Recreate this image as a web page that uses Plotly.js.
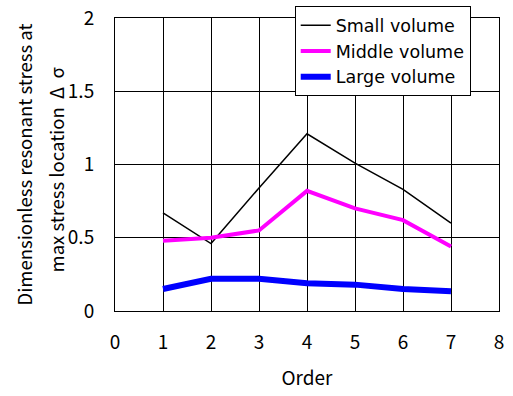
<!DOCTYPE html>
<html><head><meta charset="utf-8">
<script src="https://cdn.plot.ly/plotly-3.0.1.min.js"></script>
<style>body{margin:0;background:#fff}#c{width:513px;height:396px}</style>
</head><body><div id="c"></div>
<script>
const orders = [1, 2, 3, 4, 5, 6, 7];
const smallVolume = [0.67, 0.46, 0.84, 1.21, 1.01, 0.83, 0.60];
const middleVolume = [0.48, 0.50, 0.55, 0.82, 0.70, 0.62, 0.44];
const largeVolume = [0.15, 0.22, 0.22, 0.19, 0.18, 0.15, 0.135];
const seriesNames = ['Small volume', 'Middle volume', 'Large volume'];
const xTicks = [0, 1, 2, 3, 4, 5, 6, 7, 8];
const yTicks = [0, 0.5, 1, 1.5, 2];
const yTitleLines = ['Dimensionless resonant stress at', 'max stress location  Δ  σ'];

const FONT = '"Noto Sans CJK JP", "DejaVu Sans", sans-serif';
const traces = [
  {x: orders, y: smallVolume, name: seriesNames[0], mode: 'lines', line: {color: '#000000', width: 1.5}},
  {x: orders, y: middleVolume, name: seriesNames[1], mode: 'lines', line: {color: '#ff00ff', width: 4}},
  {x: orders, y: largeVolume, name: seriesNames[2], mode: 'lines', line: {color: '#0000ff', width: 6}}
];
const plotW = 513 - 115 - 14;
const layout = {
  width: 513, height: 396,
  margin: {l: 115, r: 14, t: 18, b: 85, autoexpand: false},
  paper_bgcolor: '#fff', plot_bgcolor: '#fff',
  font: {family: FONT, size: 19, color: '#000'},
  showlegend: true,
  legend: {x: 0.468, y: 1.04, xanchor: 'left', yanchor: 'top', bgcolor: '#fff', bordercolor: '#000', borderwidth: 1,
           font: {family: '"DejaVu Sans", sans-serif', size: 17.5, color: '#000'}, tracegroupgap: 0},
  xaxis: {range: [0, 8], tickvals: xTicks, showgrid: true, gridcolor: '#000', gridwidth: 1,
          zeroline: false, showline: true, linecolor: '#000', linewidth: 1, mirror: true,
          ticks: '', ticklabelstandoff: 14, tickfont: {size: 19},
          title: {text: 'Order', font: {family: FONT, size: 19}, standoff: 18}},
  yaxis: {range: [0, 2], tickvals: yTicks, showgrid: true, gridcolor: '#000', gridwidth: 1,
          zeroline: false, showline: true, linecolor: '#000', linewidth: 1, mirror: true,
          ticks: '', ticklabelstandoff: 16, tickfont: {size: 19}},
  annotations: [
    {text: yTitleLines[0], xref: 'paper', yref: 'paper', x: (23 - 115) / plotW, y: 0.5, xanchor: 'center', yanchor: 'middle',
     textangle: -90, showarrow: false, font: {family: FONT, size: 18.5}},
    {text: yTitleLines[1], xref: 'paper', yref: 'paper', x: (55 - 115) / plotW, y: 0.5, xanchor: 'center', yanchor: 'middle',
     yshift: -5, textangle: -90, showarrow: false, font: {family: FONT, size: 18.5}}
  ]
};
Plotly.newPlot('c', traces, layout, {displayModeBar: false, staticPlot: true});
</script></body></html>
